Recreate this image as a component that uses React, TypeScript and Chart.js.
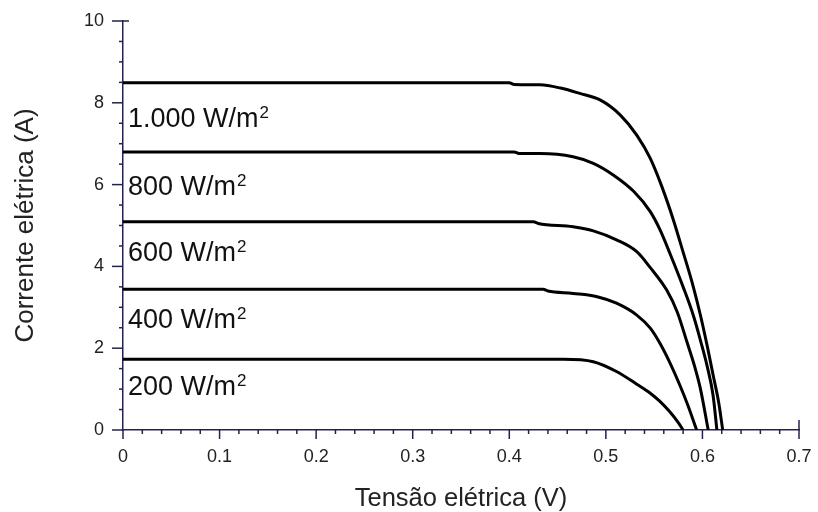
import React, { useEffect, useRef } from "react";
import { Chart, registerables } from "chart.js";

Chart.register(...registerables);

// Irradiance levels (W/m²) and labels
const irradianceLabels = ["1.000", "800", "600", "400", "200"];
// Current value (A) at which each label's baseline sits
const labelBaselineValues = [7.41, 5.75, 4.12, 2.49, 0.86];

// I-V curves: voltage (V) and current (A)
const v1000 = [0, 0.4, 0.405, 0.432, 0.453, 0.473, 0.494, 0.515, 0.532, 0.546, 0.558, 0.57, 0.58, 0.59, 0.598, 0.605, 0.611, 0.617, 0.621];
const i1000 = [8.49, 8.49, 8.45, 8.44, 8.36, 8.23, 8.07, 7.7, 7.21, 6.64, 5.95, 5.13, 4.35, 3.55, 2.8, 2.05, 1.35, 0.65, 0];

const v800 = [0, 0.405, 0.41, 0.432, 0.466, 0.487, 0.508, 0.529, 0.546, 0.556, 0.567, 0.58, 0.591, 0.599, 0.605, 0.611, 0.615];
const i800 = [6.8, 6.8, 6.76, 6.76, 6.68, 6.52, 6.23, 5.83, 5.34, 4.9, 4.28, 3.5, 2.77, 2.1, 1.55, 0.85, 0];

const v600 = [0, 0.425, 0.43, 0.466, 0.487, 0.511, 0.532, 0.546, 0.563, 0.574, 0.584, 0.592, 0.598, 0.606];
const i600 = [5.09, 5.09, 5.05, 4.97, 4.87, 4.65, 4.36, 3.97, 3.42, 2.88, 2.15, 1.55, 1.0, 0];

const v400 = [0, 0.435, 0.44, 0.466, 0.491, 0.511, 0.532, 0.546, 0.556, 0.566, 0.576, 0.585, 0.594];
const i400 = [3.44, 3.44, 3.4, 3.34, 3.26, 3.1, 2.81, 2.49, 2.12, 1.66, 1.13, 0.6, 0];

const v200 = [0, 0.456, 0.487, 0.511, 0.532, 0.546, 0.556, 0.566, 0.575, 0.58];
const i200 = [1.73, 1.73, 1.67, 1.43, 1.12, 0.9, 0.7, 0.45, 0.18, 0];

const curves = [
  [v1000, i1000],
  [v800, i800],
  [v600, i600],
  [v400, i400],
  [v200, i200],
];

const xTitle = "Tensão elétrica (V)";
const yTitle = "Corrente elétrica (A)";

const AXIS_COLOR = "#22224e";
const FONT = "'Liberation Sans', Arial, sans-serif";

const minorTicksPlugin = {
  id: "minorTicks",
  afterDraw(chart: any) {
    const { ctx, scales } = chart;
    const xs = scales.x;
    const ys = scales.y;
    ctx.save();
    ctx.strokeStyle = AXIS_COLOR;
    ctx.lineWidth = 1.5;
    const yAxisPx = xs.getPixelForValue(0);
    const xAxisPx = ys.getPixelForValue(0);
    // x ticks every 0.02, major every 0.1
    for (let i = 0; i <= 35; i++) {
      const px = xs.getPixelForValue(i * 0.02);
      const major = i % 5 === 0;
      ctx.beginPath();
      ctx.moveTo(px, xAxisPx + (i === 35 ? -10 : 0));
      ctx.lineTo(px, xAxisPx + (major ? 9 : 4));
      ctx.stroke();
    }
    // y ticks every 0.5, major every 2
    for (let i = 0; i <= 20; i++) {
      const py = ys.getPixelForValue(i * 0.5);
      const major = i % 4 === 0;
      ctx.beginPath();
      ctx.moveTo(yAxisPx - (major ? 11 : 4), py);
      ctx.lineTo(yAxisPx + (i === 20 ? 6 : 0), py);
      ctx.stroke();
    }
    ctx.restore();
  },
};

const curveLabelsPlugin = {
  id: "curveLabels",
  afterDatasetsDraw(chart: any) {
    const { ctx, scales } = chart;
    const xs = scales.x;
    const ys = scales.y;
    ctx.save();
    ctx.fillStyle = "#111";
    ctx.textBaseline = "alphabetic";
    ctx.textAlign = "left";
    irradianceLabels.forEach((lab, k) => {
      const x0 = xs.getPixelForValue(0) + 5;
      const y0 = ys.getPixelForValue(labelBaselineValues[k]);
      ctx.font = `27px ${FONT}`;
      const main = `${lab} W/m`;
      ctx.fillText(main, x0, y0);
      const w = ctx.measureText(main).width;
      ctx.font = `17px ${FONT}`;
      ctx.fillText("2", x0 + w + 1, y0 - 9);
    });
    ctx.restore();
  },
};

export default function App() {
  const ref = useRef<HTMLCanvasElement | null>(null);
  useEffect(() => {
    if (!ref.current) return;
    const chart = new Chart(ref.current, {
      type: "scatter",
      data: {
        datasets: curves.map(([vs, is], k) => ({
          label: irradianceLabels[k],
          data: vs.map((v, j) => ({ x: v, y: is[j] })),
          showLine: true,
          borderColor: "#000",
          backgroundColor: "#000",
          borderWidth: 3,
          pointRadius: 0,
          cubicInterpolationMode: "monotone" as const,
          fill: false,
        })),
      },
      options: {
        responsive: false,
        animation: false,
        layout: { padding: { left: 0, right: 19, top: 21, bottom: 0 } },
        plugins: {
          legend: { display: false },
          tooltip: { enabled: false },
        },
        scales: {
          x: {
            type: "linear",
            min: 0,
            max: 0.7,
            grid: { display: false, drawTicks: false },
            border: { display: true, color: AXIS_COLOR, width: 1.5 },
            ticks: {
              stepSize: 0.1,
              padding: 16,
              color: "#222",
              font: { family: FONT, size: 18 },
              callback: (v: any) => (Number(v) === 0 ? "0" : Number(v).toFixed(1)),
            },
            title: {
              display: true,
              text: xTitle,
              color: "#222",
              font: { family: FONT, size: 25.5, lineHeight: 1 },
              padding: { top: 0, bottom: 0 },
            },
            afterFit: (scale: any) => {
              scale.height = 82;
              scale.paddingLeft = 0;
              scale.paddingRight = 0;
            },
          },
          y: {
            type: "linear",
            min: 0,
            max: 10,
            grid: { display: false, drawTicks: false },
            border: { display: true, color: AXIS_COLOR, width: 1.5 },
            ticks: {
              stepSize: 2,
              padding: 19,
              color: "#222",
              font: { family: FONT, size: 18 },
            },
            title: {
              display: true,
              text: yTitle,
              color: "#222",
              font: { family: FONT, size: 26, lineHeight: 1 },
              padding: { top: 13, bottom: 0 },
            },
            afterFit: (scale: any) => {
              scale.width = 123;
              scale.paddingTop = 0;
              scale.paddingBottom = 0;
            },
          },
        },
      },
      plugins: [minorTicksPlugin, curveLabelsPlugin],
    });
    return () => chart.destroy();
  }, []);
  return (
    <div style={{ position: "absolute", left: 0, top: 0, width: 818, height: 512, background: "#fff" }}>
      <canvas ref={ref} width={818} height={512} />
    </div>
  );
}
